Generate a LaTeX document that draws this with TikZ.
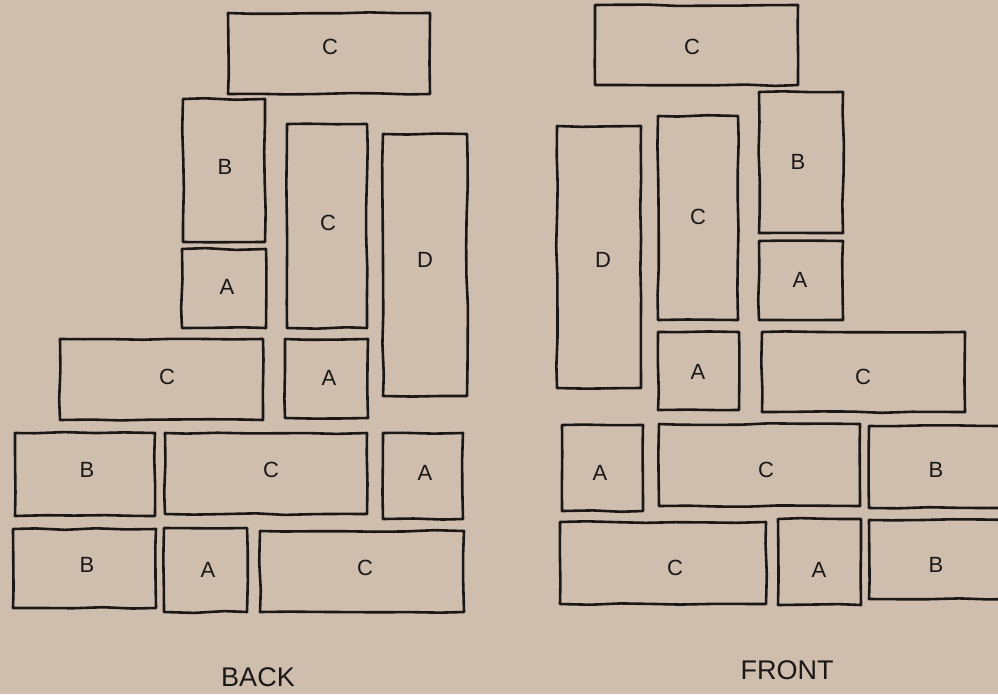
\documentclass[tikz,border=0pt]{standalone}
\usepackage{fontspec}
\setmainfont{Liberation Sans}
\usetikzlibrary{decorations.pathmorphing}
\definecolor{paper}{RGB}{207,189,174}
\definecolor{ink}{RGB}{26,24,22}
\tikzset{
  brick/.style={draw=ink, line width=2.6pt, inner sep=0pt, line join=round,
    decorate, decoration={random steps, segment length=30pt, amplitude=0.9pt}},
  lab/.style={text=ink, inner sep=0pt, font=\fontsize{22}{24}\selectfont},
  sidelabel/.style={text=ink, font=\fontsize{27}{32}\selectfont}
}
\newcommand{\brick}[8]{%
  \node[brick, minimum width={(#4-#2)*1pt}, minimum height={(#5-#3)*1pt}]
    (#1) at ({(#2+#4)/2},{(#3+#5)/2}) {};
  \node[lab] (#1-l) at (#7,#8) {#6};}
\begin{document}
\begin{tikzpicture}[x=1pt,y=-1pt]
\pgfmathsetseed{7}
\fill[paper] (0,0) rectangle (998,694);
\useasboundingbox (0,0) rectangle (998,694);
% BACK
\brick{bc1}{228}{13}{430}{94}{C}{330}{47}
\brick{bb1}{183}{99}{265}{242}{B}{225}{167}
\brick{ba1}{182}{249}{266}{328}{A}{227}{287}
\brick{bc2}{287}{124}{367}{328}{C}{328}{223}
\brick{bd}{383}{134}{467}{396}{D}{425}{260}
\brick{bc3}{60}{339}{263}{420}{C}{167}{377}
\brick{ba2}{285}{339}{368}{418}{A}{329}{378}
\brick{bb2}{15}{433}{155}{516}{B}{87}{470}
\brick{bc4}{165}{433}{367}{514}{C}{271}{470}
\brick{ba3}{383}{433}{463}{519}{A}{425}{473}
\brick{bb3}{13}{529}{156}{608}{B}{87}{565}
\brick{ba4}{164}{528}{247}{612}{A}{208}{570}
\brick{bc5}{260}{531}{464}{612}{C}{365}{568}
\node[sidelabel] (back) at (258,677) {BACK};
% FRONT
\brick{fc1}{595}{5}{798}{85}{C}{692}{47}
\brick{fd}{557}{126}{641}{388}{D}{603}{260}
\brick{fc2}{658}{116}{738}{320}{C}{698}{217}
\brick{fb1}{759}{92}{843}{233}{B}{798}{162}
\brick{fa1}{759}{241}{843}{320}{A}{800}{280}
\brick{fa2}{658}{332}{739}{410}{A}{698}{372}
\brick{fc3}{762}{332}{965}{412}{C}{863}{377}
\brick{fa3}{562}{425}{643}{511}{A}{600}{473}
\brick{fc4}{659}{424}{860}{506}{C}{766}{470}
\brick{fb2}{869}{426}{1012}{508}{B}{936}{470}
\brick{fc5}{560}{522}{766}{604}{C}{675}{568}
\brick{fa4}{778}{519}{861}{605}{A}{819}{570}
\brick{fb3}{869}{520}{1012}{599}{B}{936}{565}
\node[sidelabel] (front) at (787,670) {FRONT};
\end{tikzpicture}
\end{document}
